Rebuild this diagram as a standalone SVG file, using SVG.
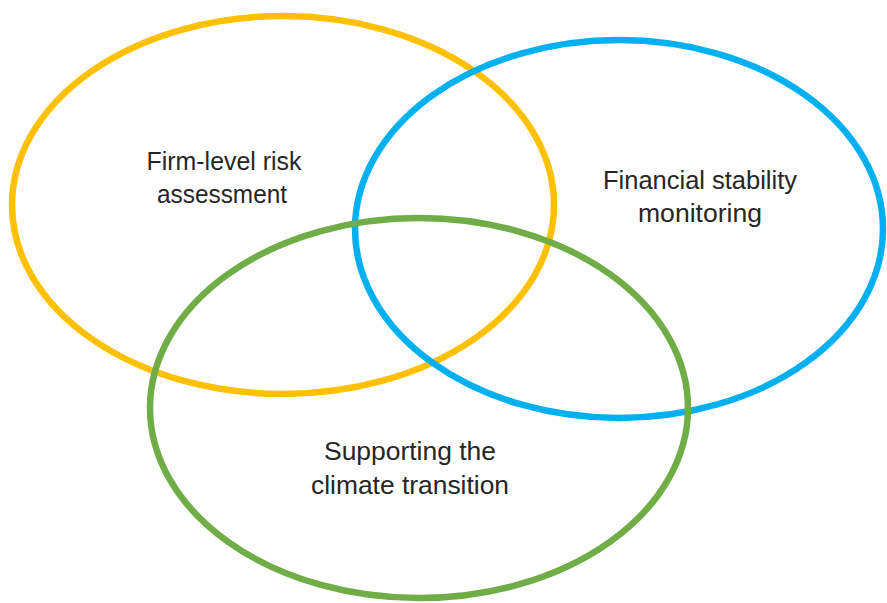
<svg xmlns="http://www.w3.org/2000/svg" width="887" height="603" viewBox="0 0 887 603">
<style>
.ring{fill:none;stroke-width:6.5}
.lbl{font-family:"Liberation Sans",Arial,sans-serif;font-size:25px;fill:#262626;text-anchor:middle}
</style>
<rect width="887" height="603" fill="#fff"/>
<g id="firm-level">
<ellipse class="ring" cx="283" cy="205" rx="271" ry="189" stroke="#FFC000"/>
<text class="lbl" x="224" y="170" textLength="155" lengthAdjust="spacingAndGlyphs">Firm-level risk</text>
<text class="lbl" x="222" y="203" textLength="130" lengthAdjust="spacingAndGlyphs">assessment</text>
</g>
<g id="financial-stability">
<ellipse class="ring" cx="619" cy="229" rx="264" ry="189" stroke="#00B0F0"/>
<text class="lbl" x="700" y="189" textLength="194" lengthAdjust="spacingAndGlyphs">Financial stability</text>
<text class="lbl" x="700" y="222" textLength="124" lengthAdjust="spacingAndGlyphs">monitoring</text>
</g>
<g id="climate-transition">
<ellipse class="ring" cx="419" cy="408" rx="269" ry="190" stroke="#70AD47"/>
<text class="lbl" x="410" y="460" textLength="172" lengthAdjust="spacingAndGlyphs">Supporting the</text>
<text class="lbl" x="410" y="494" textLength="198" lengthAdjust="spacingAndGlyphs">climate transition</text>
</g>
<g id="connectors"></g>
</svg>
